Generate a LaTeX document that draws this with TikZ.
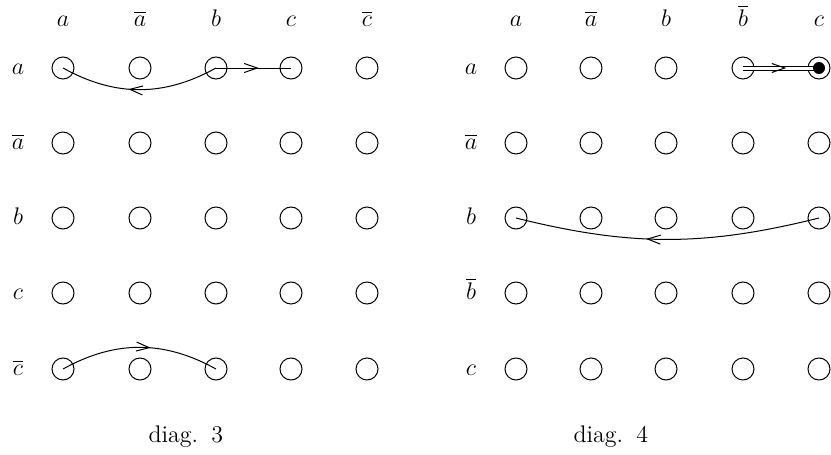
\documentclass[tikz,border=0pt]{standalone}
\usetikzlibrary{arrows.meta, decorations.markings}
\begin{document}
\begin{tikzpicture}[
  x=0.5pt, y=-0.5pt, line width=0.5pt,
  dot/.style={draw, circle, minimum size=11pt, inner sep=0pt},
  lbl/.style={anchor=base, font=\large},
  mid/.style={postaction={decorate}, decoration={markings,
      mark=at position 0.57 with {\arrow{Straight Barb[length=6.5pt, width=4.5pt]}}}},
]
  \useasboundingbox (0,0) rectangle (831,455);

  % diag. 3
  \foreach \x [count=\j] in {63,140,216,291,367}
    \foreach \y [count=\i] in {68,143,218,293,369}
      \node[dot] (L-\i-\j) at (\x,\y) {};
  \foreach \x/\t [count=\j] in {63/a, 140/\overline{a}, 216/b, 291/c, 367/\overline{c}}
    \node[lbl] (Ltop-\j) at (\x,26) {$\t$};
  \foreach \y/\t [count=\i] in {68/a, 143/\overline{a}, 218/b, 293/c, 369/\overline{c}}
    \node[lbl] (Lside-\i) at (18,\y+6) {$\t$};
  \draw[mid] (L-1-3.center) to[bend left=29] (L-1-1.center);
  \draw[mid] (L-1-3.center) -- (L-1-4.center);
  \draw[mid] (L-5-1.center) to[bend left=29] (L-5-3.center);
  \node[lbl, anchor=base west, inner sep=0pt] (cap3) at (148,442) {diag.\hspace{0.55em}3};

  % diag. 4
  \foreach \x [count=\j] in {516,591,666,743,819}
    \foreach \y [count=\i] in {68,143,218,293,369}
      \node[dot] (R-\i-\j) at (\x,\y) {};
  \foreach \x/\t [count=\j] in {516/a, 591/\overline{a}, 666/b, 743/\overline{b}, 819/c}
    \node[lbl] (Rtop-\j) at (\x,26) {$\t$};
  \foreach \y/\t [count=\i] in {68/a, 143/\overline{a}, 218/b, 293/\overline{b}, 369/c}
    \node[lbl] (Rside-\i) at (471,\y+6) {$\t$};
  \draw[double, double distance=1.5pt] (R-1-4.center) -- (R-1-5.center);
  \path[mid] (R-1-4.center) -- (R-1-5.center);
  \fill (R-1-5.center) circle (3pt);
  \draw[mid] (R-3-5.center) to[bend left=14] (R-3-1.center);
  \node[lbl, anchor=base west, inner sep=0pt] (cap4) at (573,442) {diag.\hspace{0.55em}4};
\end{tikzpicture}
\end{document}
